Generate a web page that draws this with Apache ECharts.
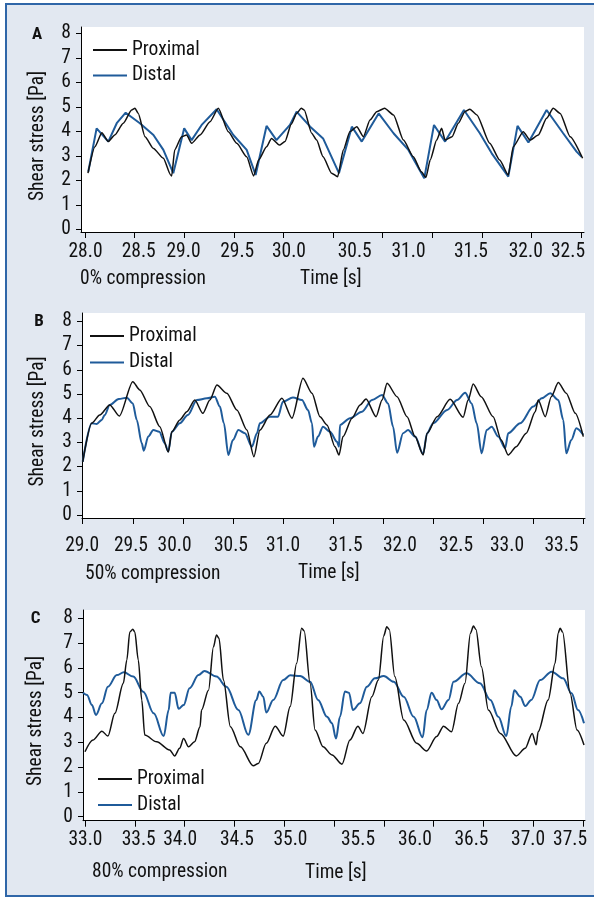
<!DOCTYPE html>
<html>
<head>
<meta charset="utf-8">
<script src="https://cdn.jsdelivr.net/npm/echarts@6.0.0/dist/echarts.min.js"></script>
<style>
html,body{margin:0;padding:0;background:#ffffff;width:594px;height:897px;overflow:hidden;}
#frame{position:absolute;left:5px;top:3px;width:640px;height:890px;border:2px solid #2f66a8;background:#e2e8f1;}
#chart{position:absolute;left:0;top:0;width:594px;height:897px;}
</style>
</head>
<body>
<div id="frame"></div>
<div id="chart"></div>
<script>
// ---------- data ----------
const yTicks = [0,1,2,3,4,5,6,7,8];

// Panel A (0% compression)
const aTicks = [28,28.5,29,29.5,30,30.5,31,31.5,32,32.5,33];
const aLabels = ['28.0','28.5','29.0','29.5','30.0','30.5','31.0','31.5','32.0','32.5'];
const aLabelAt = [28.005,28.541,28.993,29.534,30.056,30.719,31.261,31.891,32.443,32.869];
const aProxT = [28.03,28.10,28.17,28.235,28.30,28.386,28.47,28.504,28.537,28.605,28.69,28.79,28.863,28.874,28.904,28.974,29.024,29.075,29.16,29.26,29.344,29.445,29.53,29.63,29.70,29.75,29.83,29.88,29.96,30.016,30.08,30.133,30.18,30.21,30.285,30.335,30.40,30.486,30.547,30.604,30.67,30.74,30.806,30.873,30.94,31.02,31.11,31.21,31.31,31.39,31.437,31.48,31.545,31.595,31.63,31.70,31.763,31.83,31.88,31.95,32.08,32.18,32.267,32.317,32.418,32.486,32.57,32.653,32.72,32.79,32.89,33.016];
const aProxV = [2.29,3.37,3.94,3.58,3.85,4.33,4.87,4.94,4.73,3.78,3.30,2.90,2.22,2.18,3.24,3.78,3.85,3.51,3.85,4.39,4.94,3.98,3.51,2.96,2.18,2.83,3.37,3.71,3.44,3.58,4.30,4.73,4.94,4.87,3.92,3.64,2.96,2.29,2.15,3.24,3.98,4.19,3.78,4.46,4.80,4.94,4.67,3.64,2.96,2.35,2.12,2.83,3.64,4.12,3.64,3.78,4.33,4.80,4.90,4.67,3.51,2.83,2.22,3.37,3.98,3.64,3.85,4.53,4.94,4.73,3.78,2.90];
const aDistT = [28.033,28.117,28.235,28.32,28.41,28.553,28.69,28.79,28.89,29.0,29.075,29.176,29.327,29.495,29.63,29.72,29.83,29.93,30.066,30.133,30.27,30.40,30.56,30.69,30.79,30.96,31.11,31.26,31.42,31.518,31.63,31.82,31.98,32.10,32.267,32.36,32.47,32.653,32.82,32.955,33.006];
const aDistV = [2.35,4.12,3.58,4.33,4.76,4.33,3.85,3.24,2.29,4.12,3.64,4.26,4.90,3.85,3.24,2.22,4.22,3.64,4.26,4.80,4.19,3.71,2.29,4.19,3.58,4.73,3.92,3.24,2.08,4.26,3.58,4.87,3.92,3.10,2.15,4.22,3.54,4.87,3.92,3.17,2.96];

// Panel B (50% compression)
const bTicks = [29,29.5,30,30.5,31,31.5,32,32.5,33,33.5,34];
const bLabels = ['29.0','29.5','30.0','30.5','31.0','31.5','32.0','32.5','33.0','33.5'];
const bLabelAt = [28.995,29.482,29.917,30.481,31.001,31.625,32.169,32.729,33.238,33.782];
const bProxT = [29.0,29.09,29.17,29.27,29.366,29.50,29.57,29.67,29.77,29.855,29.89,29.97,30.04,30.12,30.20,30.27,30.34,30.44,30.54,30.64,30.71,30.77,30.87,30.99,31.09,31.20,31.29,31.37,31.44,31.52,31.56,31.60,31.69,31.77,31.83,31.93,31.99,32.04,32.14,32.24,32.32,32.40,32.44,32.54,32.67,32.80,32.85,32.90,32.98,33.10,33.18,33.25,33.33,33.43,33.52,33.55,33.62,33.68,33.75,33.83,33.92,34.0];
const bProxV = [2.2,3.79,4.13,4.55,4.09,5.51,5.17,4.48,3.65,2.6,3.44,3.93,4.27,4.75,4.20,4.75,5.37,5.03,4.34,3.51,2.41,3.51,4.13,4.82,4.0,5.65,5.03,4.06,3.72,2.82,2.48,3.24,4.0,4.55,4.79,4.06,4.75,5.44,4.89,4.06,3.24,2.48,3.38,4.06,4.78,4.04,4.75,5.41,4.89,4.06,3.10,2.48,2.82,3.38,4.27,4.75,4.06,4.89,5.47,5.03,4.20,3.24];
const bDistT = [29.0,29.09,29.14,29.19,29.22,29.27,29.36,29.44,29.50,29.54,29.59,29.61,29.655,29.705,29.765,29.82,29.855,29.89,29.97,30.05,30.14,30.24,30.32,30.37,30.41,30.455,30.50,30.555,30.62,30.69,30.74,30.77,30.87,30.95,31.0,31.10,31.19,31.25,31.29,31.31,31.35,31.40,31.47,31.54,31.56,31.57,31.67,31.79,31.89,31.99,32.05,32.10,32.14,32.20,32.25,32.32,32.40,32.44,32.50,32.64,32.74,32.82,32.885,32.935,32.985,33.035,33.085,33.15,33.22,33.25,33.37,33.50,33.585,33.67,33.75,33.80,33.83,33.88,33.93,34.0];
const bDistV = [2.2,3.79,3.76,3.93,4.13,4.55,4.79,4.85,4.61,3.93,2.96,2.66,3.24,3.51,3.44,2.96,2.62,3.44,3.79,4.13,4.75,4.82,4.89,4.48,3.79,2.48,3.10,3.51,3.38,2.82,3.38,3.79,4.06,4.06,4.68,4.86,4.75,4.34,3.79,2.82,3.24,3.65,3.44,3.03,2.82,3.72,4.0,4.27,4.75,4.96,4.61,3.65,2.57,3.38,3.51,3.24,2.52,3.38,3.79,4.34,4.75,5.05,4.61,3.79,2.55,3.51,3.65,3.24,2.76,3.38,3.79,4.48,4.82,5.03,4.75,3.93,2.55,3.10,3.58,3.31];

// Panel C (80% compression)
const cTicks = [33,33.5,34,34.5,35,35.5,36,36.5,37,37.5,38];
const cLabels = ['33.0','33.5','34.0','34.5','35.0','35.5','36.0','36.5','37.0','37.5'];
const cLabelAt = [33.005,33.539,33.956,34.526,35.063,35.741,36.313,36.880,37.448,37.870];
const cProxT = [33.0,33.08,33.17,33.23,33.30,33.385,33.42,33.45,33.48,33.50,33.535,33.57,33.60,33.72,33.85,33.90,33.95,33.99,34.04,34.10,34.155,34.17,34.24,34.29,34.32,34.345,34.39,34.46,34.56,34.69,34.74,34.82,34.91,34.99,35.06,35.125,35.175,35.20,35.26,35.31,35.39,35.48,35.58,35.66,35.74,35.79,35.88,35.945,36.0,36.03,36.055,36.11,36.20,36.33,36.43,36.53,36.60,36.68,36.75,36.815,36.87,36.90,36.925,36.98,37.05,37.17,37.33,37.42,37.49,37.53,37.55,37.65,37.72,37.75,37.77,37.795,37.87,37.94,38.01];
const cProxV = [2.62,3.09,3.45,3.25,4.17,5.38,6.32,7.45,7.56,7.45,6.32,4.71,3.29,3.02,2.69,2.45,2.76,3.15,2.82,3.02,3.63,4.3,5.1,6.85,7.33,7.2,5.51,3.63,2.82,2.05,2.15,2.96,3.65,3.25,4.44,6.19,7.6,7.5,5.38,3.50,2.82,2.49,2.12,3.09,3.65,3.36,4.84,5.51,7.3,7.66,7.55,5.65,3.90,2.96,2.65,3.23,3.65,3.43,4.57,5.38,7.4,7.69,7.55,6.05,4.30,3.36,2.45,2.76,3.36,2.90,3.43,4.71,6.19,7.4,7.6,7.45,4.98,3.50,2.89];
const cDistT = [32.98,33.02,33.07,33.11,33.17,33.23,33.32,33.39,33.485,33.585,33.69,33.79,33.84,33.86,33.90,33.94,33.99,34.05,34.14,34.20,34.32,34.42,34.54,34.64,34.72,34.75,34.79,34.82,34.89,34.99,35.06,35.16,35.26,35.34,35.43,35.48,35.52,35.56,35.61,35.65,35.69,35.76,35.83,35.91,36.0,36.10,36.20,36.30,36.39,36.43,36.48,36.53,36.58,36.65,36.70,36.83,36.965,37.07,37.15,37.23,37.28,37.31,37.37,37.42,37.48,37.57,37.685,37.80,37.885,37.95,38.01];
const cDistV = [5.0,4.91,4.50,4.1,4.57,5.24,5.71,5.82,5.65,5.04,4.17,3.25,4.30,5.0,5.0,4.35,4.5,5.18,5.71,5.88,5.65,5.24,4.30,3.3,4.71,5.05,4.84,4.2,4.71,5.51,5.7,5.67,5.44,4.71,4.03,3.77,3.15,4.03,5.05,5.0,4.3,4.57,5.24,5.58,5.67,5.44,4.84,4.03,3.2,4.30,5.0,4.71,4.33,4.71,5.44,5.78,5.38,4.71,4.03,3.25,4.44,5.1,4.84,4.46,4.71,5.51,5.85,5.58,4.98,4.30,3.77];

// ---------- font selection (condensed look of the original) ----------
function fontAvailable(f) {
  const c = document.createElement('canvas').getContext('2d');
  const s = '0% compression Shear stress [Pa] 28.5';
  c.font = '40px monospace';
  const a = c.measureText(s).width;
  c.font = "40px '" + f + "', monospace";
  return Math.abs(c.measureText(s).width - a) > 0.5;
}
const CANDIDATES = ['Liberation Sans Narrow','Arial Narrow','Nimbus Sans Narrow','Roboto Condensed','Noto Sans Condensed','Liberation Sans','Arial','DejaVu Sans Condensed'];
let FAMILY = 'sans-serif';
for (const f of CANDIDATES) { if (fontAvailable(f)) { FAMILY = f; break; } }
const FONT = "'" + FAMILY + "', sans-serif";
// size chosen so that the caption "0% compression" spans ~127px as in the original
const FS = (function () {
  const c = document.createElement('canvas').getContext('2d');
  c.font = '100px ' + FONT;
  const w = c.measureText('0% compression').width;
  return Math.max(14, Math.min(21, Math.round(100 * 127 / w * 2) / 2));
})();

const BLUE = '#1f5b9a';
const zip = (t, v) => t.map((x, i) => [x, v[i]]);

const panels = [
  {grid:{left:81, top:27, width:503, height:205}, xmin:27.9597, xmax:33.0302, ymin:-0.11, ymax:8.257,
   ticks:aTicks, labels:aLabels, labelAt:aLabelAt, xMargin:10,
   prox:zip(aProxT,aProxV), dist:zip(aDistT,aDistV), smoothP:0.2, smoothD:false,
   legend:{left:92, top:40, itemGap:5.5}},
  {grid:{left:82, top:313, width:503, height:205}, xmin:28.993, xmax:34.017, ymin:-0.124, ymax:8.347,
   ticks:bTicks, labels:bLabels, labelAt:bLabelAt, xMargin:18.5,
   prox:zip(bProxT,bProxV), dist:zip(bDistT,bDistV), smoothP:0.25, smoothD:0.3,
   legend:{left:89, top:326, itemGap:6.5}},
  {grid:{left:83, top:610, width:502, height:210.7}, xmin:32.98, xmax:38.02, ymin:-0.161, ymax:8.335,
   ticks:cTicks, labels:cLabels, labelAt:cLabelAt, xMargin:9.5,
   prox:zip(cProxT,cProxV), dist:zip(cDistT,cDistV), smoothP:0.3, smoothD:0.35,
   legend:{left:97, top:769, itemGap:6}}
];

const grid = [], xAxis = [], yAxis = [], series = [], legend = [];
panels.forEach((p, i) => {
  grid.push(Object.assign({show:true, backgroundColor:'#ffffff', borderWidth:0, containLabel:false, outerBoundsMode:'none'}, p.grid));
  xAxis.push({
    type:'value', gridIndex:i, min:p.xmin, max:p.xmax,
    axisLine:{show:true, onZero:false, lineStyle:{color:'#000', width:1}},
    axisTick:{show:true, length:6, lineStyle:{color:'#000', width:1}, customValues:p.ticks},
    axisLabel:{show:true, customValues:p.labelAt, margin:p.xMargin, color:'#111', fontSize:FS, fontFamily:FONT,
      formatter:(v) => { let best = 0, d = 1e9; p.labelAt.forEach((a, k) => { if (Math.abs(a - v) < d) { d = Math.abs(a - v); best = k; } }); return p.labels[best]; }},
    splitLine:{show:false}
  });
  yAxis.push({
    type:'value', gridIndex:i, min:p.ymin, max:p.ymax,
    axisLine:{show:true, onZero:false, lineStyle:{color:'#000', width:1}},
    axisTick:{show:true, length:5, lineStyle:{color:'#000', width:1}, customValues:yTicks},
    axisLabel:{show:true, customValues:yTicks, margin:10, color:'#111', fontSize:FS, fontFamily:FONT, formatter:(v)=>String(Math.round(v))},
    splitLine:{show:false}
  });
  series.push({type:'line', name:'Proximal', xAxisIndex:i, yAxisIndex:i, data:p.prox, symbol:'none',
    smooth:p.smoothP, smoothMonotone:'x', lineStyle:{color:'#111', width:1.5}, itemStyle:{color:'#111'}, z:3});
  series.push({type:'line', name:'Distal', xAxisIndex:i, yAxisIndex:i, data:p.dist, symbol:'none',
    smooth:p.smoothD, smoothMonotone:'x', lineStyle:{color:BLUE, width:2}, itemStyle:{color:BLUE}, z:2});
  legend.push({data:['Proximal','Distal'], orient:'vertical', left:p.legend.left, top:p.legend.top,
    itemGap:p.legend.itemGap, itemWidth:34, itemHeight:14, padding:0, selectedMode:false,
    itemStyle:{color:'rgba(0,0,0,0)', borderColor:'rgba(0,0,0,0)', borderWidth:0, opacity:0},
    textStyle:{fontSize:FS, fontFamily:FONT, color:'#111'}});
});

const txt = (text, x, y) => ({
  type:'text', x:x, y:y,
  style:{text:text, font:FS + 'px ' + FONT, fill:'#111', textAlign:'left', textVerticalAlign:'middle', align:'left', verticalAlign:'middle'}
});
const ytitle = (x, y) => ({type:'text', x:x, y:y, rotation:Math.PI/2,
  style:{text:'Shear stress [Pa]', font:FS + 'px ' + FONT, fill:'#111', textAlign:'center', textVerticalAlign:'middle', align:'center', verticalAlign:'middle'}});
const letter = (t, x, y) => ({type:'text', x:x, y:y,
  style:{text:t, font:'bold ' + Math.round(FS * 0.85) + 'px ' + FONT, fill:'#111', textAlign:'center', textVerticalAlign:'middle', align:'center', verticalAlign:'middle'}});

const graphic = [
  letter('A', 37, 35), letter('B', 39, 321.5), letter('C', 35.5, 619),
  ytitle(38, 136), ytitle(38, 421.5), ytitle(36, 721),
  txt('0% compression', 80, 279), txt('Time [s]', 300, 279),
  txt('50% compression', 85, 574), txt('Time [s]', 298, 573),
  txt('80% compression', 92, 872.5), txt('Time [s]', 305, 873)
];

const chart = echarts.init(document.getElementById('chart'), null, {renderer:'canvas'});
chart.setOption({animation:false, backgroundColor:'transparent', grid, xAxis, yAxis, series, legend, graphic});
</script>
</body>
</html>
